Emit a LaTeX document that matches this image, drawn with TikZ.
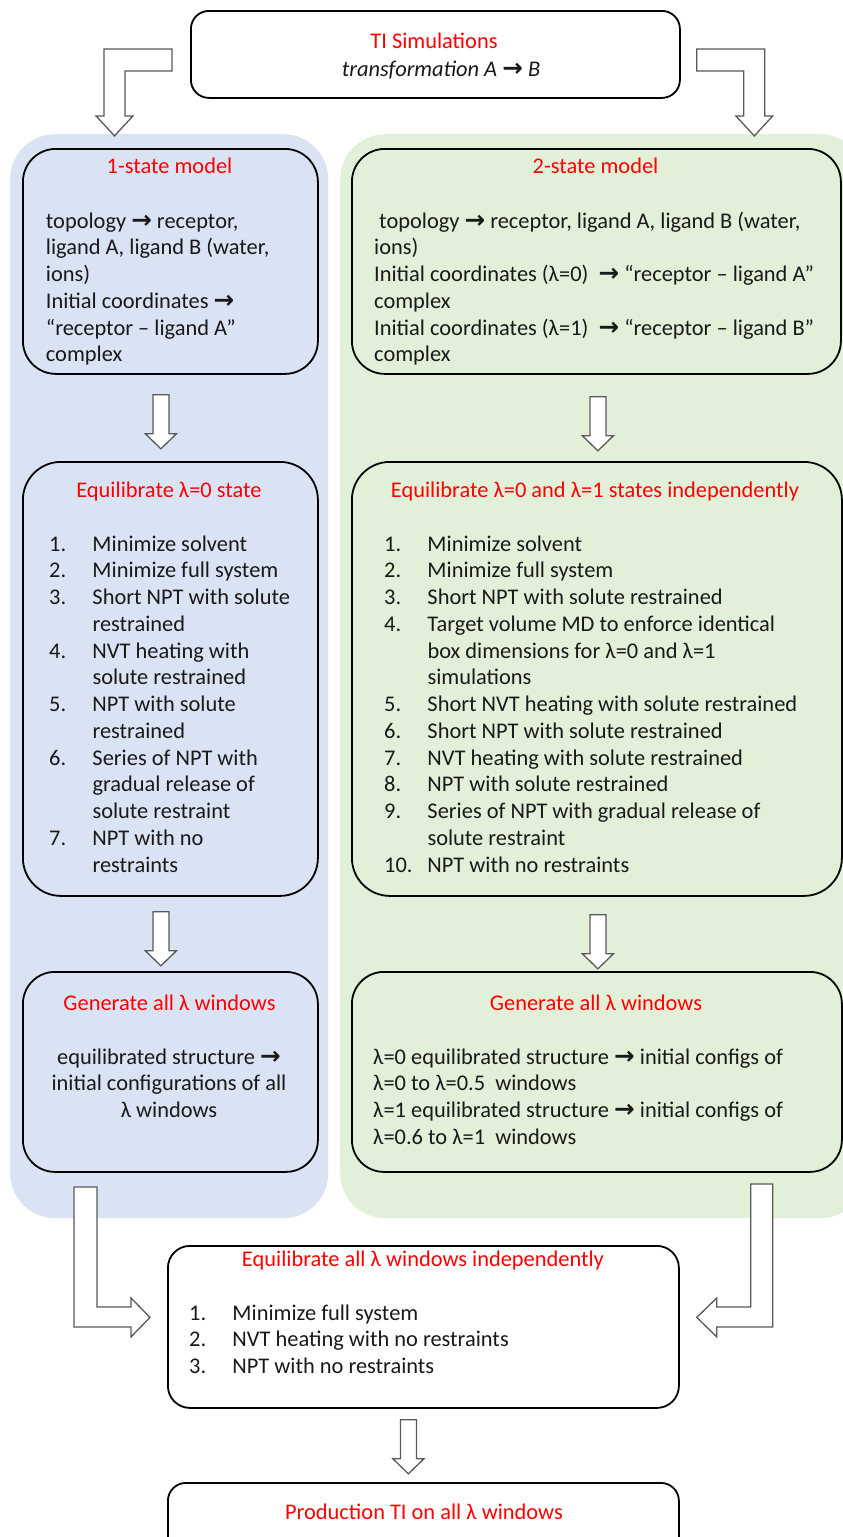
\documentclass[tikz,border=0pt]{standalone}
\usepackage{fontspec}
\setmainfont{Carlito}
\newfontfamily\arrowfont{DejaVu Sans}[Scale=1.1]
\usetikzlibrary{calc}
\definecolor{bluebg}{HTML}{DAE3F3}
\definecolor{greenbg}{HTML}{E2F0D9}
\definecolor{titlered}{HTML}{FF0000}
\definecolor{arrowgray}{HTML}{595959}
\newcommand\ra{{\upshape\arrowfont\bfseries →}}
\newcommand\itm[1]{\makebox[43.3pt][l]{#1}}
\begin{document}
\begin{tikzpicture}[x=1pt,y=-1pt,
  box/.style={draw=black, line width=1.8pt, anchor=north west, inner sep=0pt},
  panel/.style={anchor=north west, inner sep=0pt, draw=none},
  txt/.style={inner sep=0pt, font=\fontsize{22.4}{26.75}\selectfont, text=black!90},
  ttl/.style={inner sep=0pt, font=\fontsize{22.4}{26.75}\selectfont, text=titlered, anchor=base},
  arrowst/.style={draw=arrowgray, fill=white, line width=1.3pt, line join=miter},
  pics/downarr/.style={code={\draw[arrowst] (-8,0) -- (8,0) -- (8,39) -- (15.5,39) -- (0,54) -- (-15.5,39) -- (-8,39) -- cycle;}},
  pics/bentdl/.style={code={\draw[arrowst] (0,0) -- (-68,0) -- (-68,67) -- (-76,67) -- (-57.5,87) -- (-39,67) -- (-47,67) -- (-47,22) -- (0,22) -- cycle;}},
  pics/bentdr/.style={code={\draw[arrowst] (0,0) -- (68,0) -- (68,67) -- (76,67) -- (57.5,87) -- (39,67) -- (47,67) -- (47,22) -- (0,22) -- cycle;}},
  pics/bentrt/.style={code={\draw[arrowst] (0,0) -- (23,0) -- (23,120) -- (57,120) -- (57,111) -- (76,130.5) -- (57,150) -- (57,140) -- (0,140) -- cycle;}},
  pics/bentlt/.style={code={\draw[arrowst] (0,0) -- (-22,0) -- (-22,123) -- (-56,123) -- (-56,114) -- (-76,133.5) -- (-56,153) -- (-56,143) -- (0,143) -- cycle;}}
]
\useasboundingbox (0,0) rectangle (843,1537);
\clip (0,0) rectangle (843,1537);
\fill[white] (0,0) rectangle (843,1537);

% background panels
\node[panel, fill=bluebg, rounded corners=45pt, minimum width=318pt, minimum height=1084pt] (panL) at (10,134) {};
\node[panel, fill=greenbg, rounded corners=45pt, minimum width=525pt, minimum height=1084pt] (panR) at (340,134) {};

% boxes
\node[box, rounded corners=18pt, minimum width=489pt, minimum height=87pt] (top) at (190,10) {};
\node[box, rounded corners=33pt, minimum width=295pt, minimum height=225pt] (stateL) at (22,148) {};
\node[box, rounded corners=33pt, minimum width=489pt, minimum height=225pt] (stateR) at (351,148) {};
\node[box, rounded corners=38pt, minimum width=295pt, minimum height=434pt] (eqL) at (22,461) {};
\node[box, rounded corners=38pt, minimum width=490pt, minimum height=434pt] (eqR) at (351,461) {};
\node[box, rounded corners=32pt, minimum width=295pt, minimum height=200pt] (genL) at (22,971) {};
\node[box, rounded corners=32pt, minimum width=490pt, minimum height=200pt] (genR) at (351,971) {};
\node[box, rounded corners=22pt, minimum width=511pt, minimum height=162pt] (eqAll) at (167,1245) {};
\node[box, rounded corners=18pt, minimum width=511pt, minimum height=90pt] (prod) at (167,1482) {};

% block arrows
\pic at ($(top.west)+(-18,-5.5)$) {bentdl};
\pic at ($(top.east)+(16,-5.5)$) {bentdr};
\pic at ($(stateL.south)+(-9.5,20)$) {downarr};
\pic at ($(stateR.south)+(1.5,22)$) {downarr};
\pic at ($(eqL.south)+(-9.5,15)$) {downarr};
\pic at ($(eqR.south)+(1,18)$) {downarr};
\pic at ($(eqAll.west)+(-93,-140)$) {bentrt};
\pic at ($(eqAll.east)+(93,-143)$) {bentlt};
\pic at ($(eqAll.south)+(-15,11)$) {downarr};

% top box text
\node[ttl] (topT) at (434,48) {TI Simulations};
\node[txt, anchor=base] (topS) at (441,76) {\itshape transformation A \ra\ B};

% 1-state model
\node[ttl] (stateLT) at (169.5,173) {1-state model};
\node[txt, anchor=base west] (stateLB) at (45.7,228) {\begin{tabular}[t]{@{}l@{}}
topology \ra\ receptor,\\
ligand A, ligand B (water,\\
ions)\\
Initial coordinates \ra\\
“receptor – ligand A”\\
complex
\end{tabular}};

% 2-state model
\node[ttl] (stateRT) at (595.5,173) {2-state model};
\node[txt, anchor=base west] (stateRB) at (374,228) {\begin{tabular}[t]{@{}l@{}}
\hspace{5pt}topology \ra\ receptor, ligand A, ligand B (water,\\
ions)\\
Initial coordinates (λ=0)\ \ \ra\ “receptor – ligand A”\\
complex\\
Initial coordinates (λ=1)\ \ \ra\ “receptor – ligand B”\\
complex
\end{tabular}};

% Equilibrate left
\node[ttl] (eqLT) at (169,497) {Equilibrate λ=0 state};
\node[txt, anchor=base west] (eqLB) at (49,551) {\begin{tabular}[t]{@{}l@{}}
\itm{1.}Minimize solvent\\
\itm{2.}Minimize full system\\
\itm{3.}Short NPT with solute\\
\itm{}restrained\\
\itm{4.}NVT heating with\\
\itm{}solute restrained\\
\itm{5.}NPT with solute\\
\itm{}restrained\\
\itm{6.}Series of NPT with\\
\itm{}gradual release of\\
\itm{}solute restraint\\
\itm{7.}NPT with no\\
\itm{}restraints
\end{tabular}};

% Equilibrate right
\node[ttl] (eqRT) at (595,497) {Equilibrate λ=0 and λ=1 states independently};
\node[txt, anchor=base west] (eqRB) at (384,551) {\begin{tabular}[t]{@{}l@{}}
\itm{1.}Minimize solvent\\
\itm{2.}Minimize full system\\
\itm{3.}Short NPT with solute restrained\\
\itm{4.}Target volume MD to enforce identical\\
\itm{}box dimensions for λ=0 and λ=1\\
\itm{}simulations\\
\itm{5.}Short NVT heating with solute restrained\\
\itm{6.}Short NPT with solute restrained\\
\itm{7.}NVT heating with solute restrained\\
\itm{8.}NPT with solute restrained\\
\itm{9.}Series of NPT with gradual release of\\
\itm{}solute restraint\\
\itm{10.}NPT with no restraints
\end{tabular}};

% Generate left
\node[ttl] (genLT) at (169.5,1010) {Generate all λ windows};
\node[txt, anchor=base] (genLB) at (169,1064) {\begin{tabular}[t]{@{}c@{}}
equilibrated structure \ra\\
initial configurations of all\\
λ windows
\end{tabular}};

% Generate right
\node[ttl] (genRT) at (596,1010) {Generate all λ windows};
\node[txt, anchor=base west] (genRB) at (373,1064) {\begin{tabular}[t]{@{}l@{}}
λ=0 equilibrated structure \ra\ initial configs of\\
λ=0 to λ=0.5\ \ windows\\
λ=1 equilibrated structure \ra\ initial configs of\\
λ=0.6 to λ=1\ \ windows
\end{tabular}};

% Equilibrate all
\node[ttl] (eqAllT) at (423,1266) {Equilibrate all λ windows independently};
\node[txt, anchor=base west] (eqAllB) at (189,1320) {\begin{tabular}[t]{@{}l@{}}
\itm{1.}Minimize full system\\
\itm{2.}NVT heating with no restraints\\
\itm{3.}NPT with no restraints
\end{tabular}};

% Production
\node[ttl] (prodT) at (424,1519) {Production TI on all λ windows};
\end{tikzpicture}
\end{document}
